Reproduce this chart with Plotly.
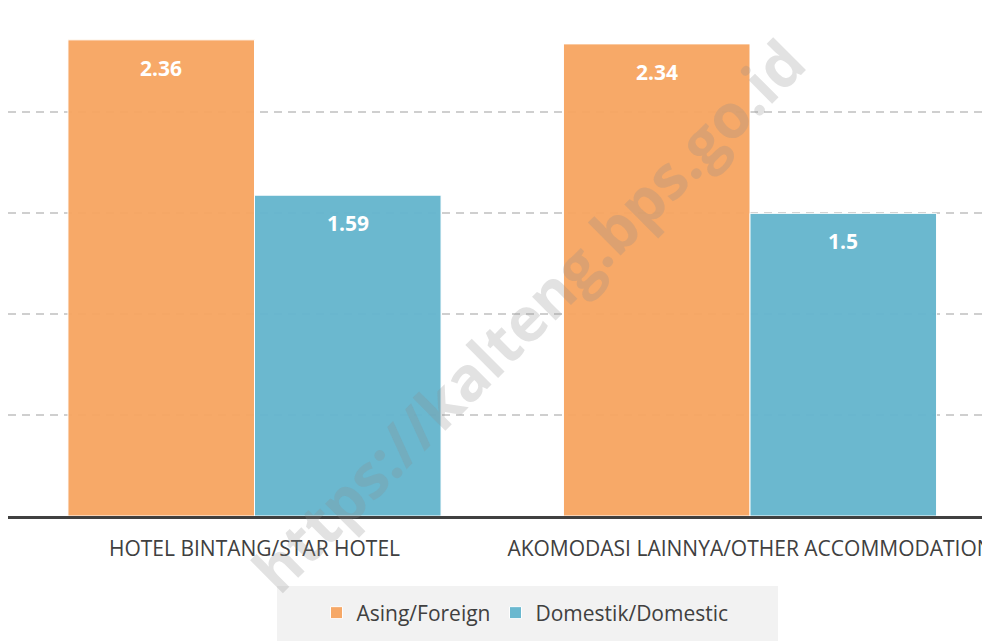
import plotly.graph_objects as go

categories = ["HOTEL BINTANG/STAR HOTEL", "AKOMODASI LAINNYA/OTHER ACCOMMODATION"]
series_names = ["Asing/Foreign", "Domestik/Domestic"]
foreign = [2.36, 2.34]
domestic = [1.59, 1.5]
colors = ["#F7A662", "#65B6CE"]

W, H = 990, 641
ml, mr, mt, mb = 0, 0, 3, 133
bargap = 0.247
pw = W - ml - mr
ph = H - mt - mb
unit = 495.5  # px per category
first_center = 246.5


def px(fx):
    return (fx - ml) / pw


def py(fy):
    return (H - mb - fy) / ph


fig = go.Figure()
for name, vals, col in zip(series_names, [foreign, domestic], colors):
    fig.add_trace(go.Bar(
        x=categories, y=vals, name=name,
        marker=dict(color=col, line=dict(color="white", width=1)),
        opacity=0.96,
        hoverinfo="skip",
    ))

bw = (1 - bargap) / 2
annotations = []
for k, vals in enumerate([foreign, domestic]):
    off = -bw / 2 if k == 0 else bw / 2
    for i, v in enumerate(vals):
        annotations.append(dict(
            x=i + off, y=v, xref="x", yref="y", text=f"<b>{v:g}</b>",
            showarrow=False, yshift=-28, yanchor="middle",
            font=dict(family="Open Sans", size=21, color="white"),
        ))

annotations.append(dict(
    x=px(519), y=py(307), xref="paper", yref="paper",
    text="<b>https://kalteng.bps.go.id</b>",
    showarrow=False, textangle=-45,
    font=dict(family="Open Sans", size=61, color="rgba(140,140,140,0.25)"),
))

fig.update_layout(
    width=W, height=H,
    margin=dict(l=ml, r=mr, t=mt, b=mb, pad=0),
    paper_bgcolor="white", plot_bgcolor="white",
    barmode="group", bargap=bargap, bargroupgap=0,
    annotations=annotations,
    shapes=[dict(
        type="rect", xref="paper", yref="paper", layer="below",
        x0=px(269), x1=px(770), y0=py(645), y1=py(578),
        fillcolor="#F2F2F2", line=dict(width=0),
    )],
    legend=dict(
        orientation="h", x=px(517), xanchor="center",
        y=py(605), yanchor="middle",
        bgcolor="rgba(0,0,0,0)",
        font=dict(family="Open Sans", size=21, color="#404040"),
        itemclick=False, itemwidth=30,
    ),
    xaxis=dict(
        range=[-first_center / unit, (pw - first_center) / unit],
        showline=True, linecolor="#404040", linewidth=3,
        showgrid=False, ticks="", ticklabelstandoff=12,
        tickfont=dict(family="Open Sans", size=21, color="#404040"),
        fixedrange=True,
    ),
    yaxis=dict(
        range=[0, 2.503], tickvals=[0.5, 1.0, 1.5, 2.0, 2.5], showticklabels=False,
        showgrid=True, gridcolor="#CFCFCF", gridwidth=1.5, griddash="8px,6px",
        zeroline=False, fixedrange=True,
    ),
    showlegend=True,
)

fig.write_html("out.html")
